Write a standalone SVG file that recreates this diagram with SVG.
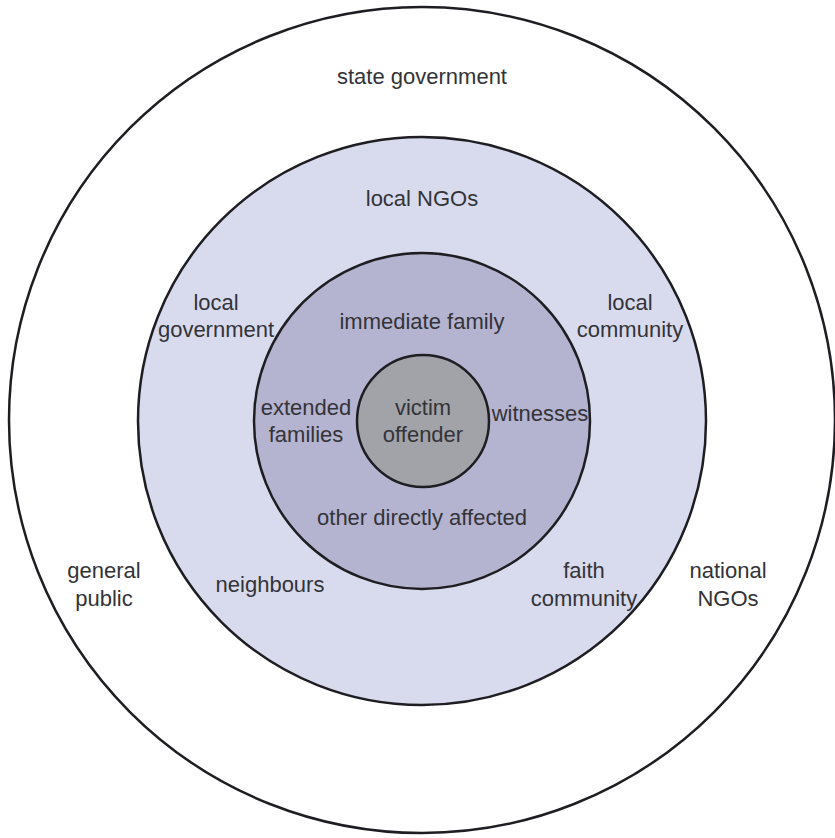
<svg xmlns="http://www.w3.org/2000/svg" width="835" height="838" viewBox="0 0 835 838">
  <style>
    .ring { stroke: #1e1e22; stroke-width: 2.5; }
    .lbl { font-family: "Liberation Sans", Arial, sans-serif; font-size: 22px; fill: #333338; text-anchor: middle; }
  </style>
  <rect width="835" height="838" fill="#ffffff"/>

  <!-- concentric stakeholder rings, outermost first -->
  <g id="ring-outer">
    <circle class="ring" cx="422" cy="420" r="413" fill="#ffffff"/>
    <text class="lbl" x="422" y="84">state government</text>
    <text class="lbl" x="104" y="578">general</text>
    <text class="lbl" x="104" y="606">public</text>
    <text class="lbl" x="728" y="578">national</text>
    <text class="lbl" x="728" y="606">NGOs</text>
  </g>

  <g id="ring-community">
    <circle class="ring" cx="422" cy="421" r="284" fill="#d8dbee"/>
    <text class="lbl" x="422" y="206">local NGOs</text>
    <text class="lbl" x="216" y="310">local</text>
    <text class="lbl" x="216" y="337">government</text>
    <text class="lbl" x="630" y="310">local</text>
    <text class="lbl" x="630" y="337">community</text>
    <text class="lbl" x="270" y="592">neighbours</text>
    <text class="lbl" x="584" y="578">faith</text>
    <text class="lbl" x="584" y="606">community</text>
  </g>

  <g id="ring-family">
    <circle class="ring" cx="422" cy="421" r="168" fill="#b4b4d0"/>
    <text class="lbl" x="422" y="329">immediate family</text>
    <text class="lbl" x="306" y="415">extended</text>
    <text class="lbl" x="306" y="442">families</text>
    <text class="lbl" x="540" y="421">witnesses</text>
    <text class="lbl" x="422" y="525">other directly affected</text>
  </g>

  <g id="core">
    <circle class="ring" cx="423" cy="421" r="66" fill="#a1a3a9"/>
    <text class="lbl" x="423" y="415">victim</text>
    <text class="lbl" x="423" y="442">offender</text>
  </g>
</svg>
